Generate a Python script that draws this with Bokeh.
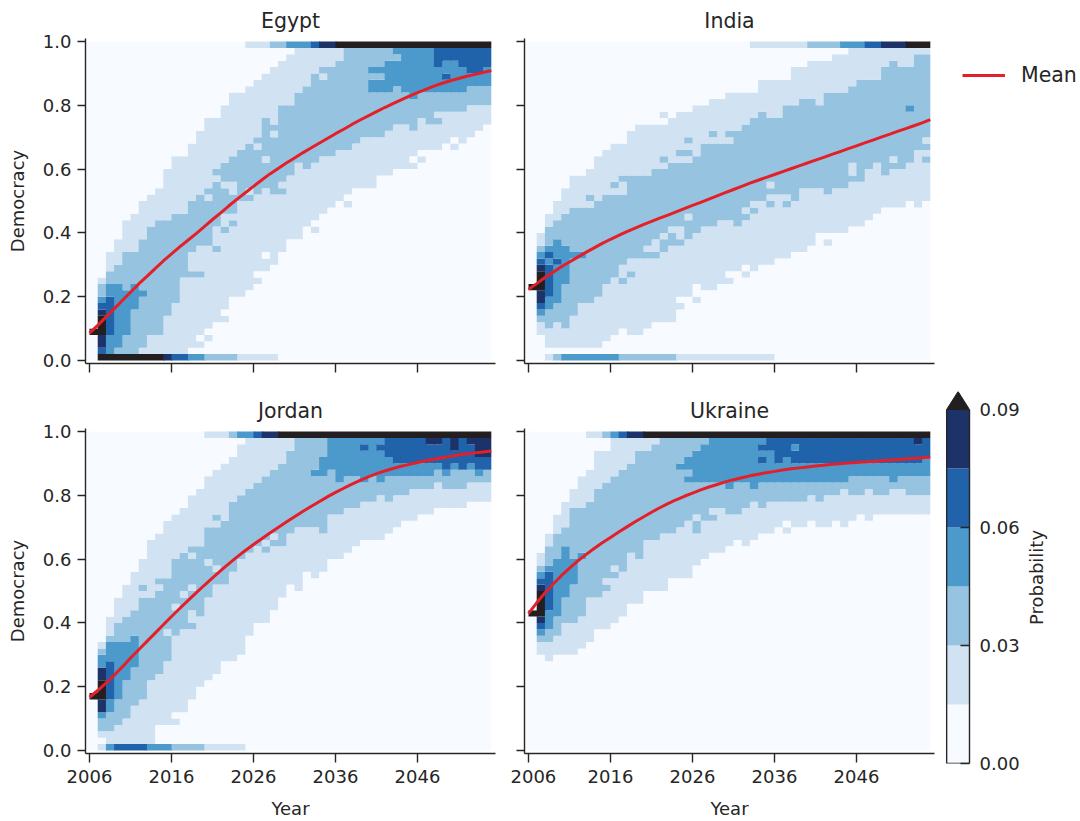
import math
from bokeh.core.properties import value
from bokeh.embed import file_html
from bokeh.resources import INLINE
from bokeh.plotting import figure
from bokeh.layouts import column, row
from bokeh.models import (ColumnDataSource, FixedTicker, Legend, LegendItem,
                          LinearColorMapper, Range1d)
from bokeh.transform import transform

years = list(range(2006, 2056))
tick_years = [2006, 2016, 2026, 2036, 2046]
demo_ticks = [0.0, 0.2, 0.4, 0.6, 0.8, 1.0]
prob_ticks = [0.0, 0.03, 0.06, 0.09]
palette = ["#f7fbff", "#d1e2f2", "#95c3e0", "#4c99cb", "#2063ab", "#1c3268"]
over_color = "#231f20"
mean_color = "#e3202a"
ink = "#262626"
BIN = 0.02           # democracy bin height
CLASS = 0.015        # probability class width

# Each string is one year column, bottom to top:
# "class/top_bin" = colour class k up to and including democracy bin top_bin (bins 1..48).
egypt_floor = "0/0 6/8 5/9 4/11 3/13 2/17 1/22 0/48"
egypt_ceil = "0/18 1/21 2/23 3/26 4/27 5/29 6/48"
egypt_cols = [
 "0/3 6/4", "4/1 5/3 6/6 5/7 4/8 3/9 2/11 1/12", "3/3 4/9 3/11 2/13 1/16", "2/1 3/11 2/14 1/18",
 "2/3 3/10 2/16 1/21", "2/7 3/11 2/16 1/22", "1/1 2/9 3/10 2/18 1/24", "1/3 2/20 1/25",
 "1/3 2/21 1/26", "1/6 2/21 1/29", "1/8 2/22 1/31", "1/12 2/22 1/31",
 "0/1 1/12 2/13 1/16 2/24 1/33", "0/1 1/2 0/3 1/12 2/13 1/17 2/25 1/35",
 "0/2 1/3 0/4 1/17 2/24 1/25 2/26 1/37", "0/5 1/16 2/17 1/20 2/27 1/28 2/29 1/37",
 "0/5 1/6 0/7 1/19 2/20 1/22 2/26 1/27 2/30 1/39", "0/9 1/20 2/21 1/22 2/25 1/27 2/31 1/41",
 "0/9 1/24 2/32 1/41", "0/10 1/24 2/25 1/26 2/33 1/42", "0/11 1/12 0/13 1/25 2/32 1/33 2/34 1/43",
 "0/13 1/15 0/16 1/26 2/30 1/31 2/37 1/44", "0/14 1/25 2/34 1/35 2/36 1/45",
 "0/16 1/25 2/26 1/27 2/39 1/46", "0/18 1/28 2/39 1/47", "0/18 1/30 2/41 1/48",
 "0/20 1/29 2/42 1/48", "0/19 1/20 0/21 1/30 2/44 1/48", "0/22 1/31 2/43 1/44 2/45 1/48",
 "0/23 1/31 2/45 1/48", "0/24 1/32 2/46 1/48", "0/23 1/24 0/25 1/32 2/48", "0/26 1/33 2/48",
 "0/26 1/34 2/48", "0/26 1/34 2/41 3/43 2/44 3/45 2/48", "0/28 1/34 2/41 3/43 2/44 3/45 2/48",
 "0/28 1/35 2/41 3/46 2/48", "0/29 1/36 2/42 3/46 2/47 3/48", "0/29 1/36 2/41 3/48",
 "0/29 1/30 0/31 1/35 2/40 3/48", "0/30 1/31 0/32 1/37 2/41 3/48", "0/32 1/36 2/41 3/48",
 "0/32 1/36 2/37 1/38 2/41 3/45 4/48", "0/33 1/38 2/41 3/43 4/44 3/46 4/48",
 "0/32 1/33 0/34 1/38 2/41 3/46 4/48", "0/33 1/38 2/41 3/45 4/48", "0/34 1/39 2/42 3/44 4/48",
 "0/35 1/39 2/42 3/44 4/48", "0/36 1/39 2/42 3/45 4/48",
]
egypt_mean = [.086,.110,.136,.162,.188,.214,.240,.264,.288,.312,.334,.356,.377,.398,.420,.442,.463,.485,.506,.526,
              .546,.566,.585,.602,.619,.635,.651,.666,.681,.696,.711,.725,.740,.754,.767,.780,.793,.805,.817,.829,
              .840,.850,.860,.869,.877,.884,.891,.897,.903,.909]

india_floor = "0/1 1/2 2/3 3/10 2/17 1/29 0/48"
india_ceil = "0/26 1/33 2/37 3/40 4/42 5/45 6/48"
india_cols = [
 "0/10 6/11", "0/3 1/5 2/6 3/7 4/8 5/10 6/13 5/14 4/15 3/16 2/17 1/19",
 "0/1 1/4 2/7 3/9 4/14 3/15 4/16 3/17 2/20 1/22", "0/1 1/5 2/8 3/14 4/15 3/18 2/21 1/24",
 "0/1 1/4 2/11 3/17 2/22 1/26", "0/1 1/6 2/15 3/16 2/23 1/28", "0/1 1/8 2/15 3/16 2/23 1/28",
 "0/1 1/8 2/23 1/24 2/25 1/29", "0/1 1/9 2/24 1/31", "0/2 1/11 2/25 1/32",
 "0/3 1/12 2/25 1/26 2/27 1/33", "0/4 1/11 2/12 1/14 2/25 1/27 2/28 1/33",
 "0/3 1/12 2/13 1/15 2/28 1/35", "0/3 1/15 2/28 1/36", "0/4 1/15 2/16 1/17 2/28 1/36",
 "0/5 1/15 2/16 1/18 2/29 1/36", "0/5 1/16 2/18 1/19 2/29 1/30 2/31 1/36 0/37 1/38",
 "0/5 1/17 2/19 1/20 2/30 1/37", "0/7 1/8 0/9 1/17 2/18 1/20 2/30 1/31 2/32 1/38",
 "0/9 1/18 2/21 1/22 2/30 1/31 2/32 1/33 2/34 1/38", "0/8 1/9 0/11 1/19 2/31 1/39",
 "0/10 1/20 2/33 1/39", "0/10 1/20 2/33 1/34 2/35 1/40", "0/11 1/21 2/33 1/40",
 "0/11 1/12 0/13 1/21 2/33 1/34 2/35 1/41", "0/13 1/20 2/35 1/41",
 "0/12 1/13 0/14 1/21 2/22 1/23 2/36 1/41", "0/13 1/22 2/23 1/24 2/37 1/41", "0/14 1/24 2/38 1/43",
 "0/14 1/23 2/24 1/25 2/26 1/27 2/37 1/43", "0/15 1/25 2/37 1/43", "0/15 1/23 2/24 1/25 2/39 1/43",
 "0/16 1/24 2/39 1/45", "0/16 1/26 2/40 1/45", "0/17 1/26 2/40 1/46", "0/19 1/26 2/39 1/46",
 "0/17 1/18 0/19 1/25 2/41 1/46", "0/19 1/26 2/41 1/47", "0/19 1/26 2/41 1/47",
 "0/20 1/27 2/28 1/30 2/42 1/48", "0/20 1/27 2/43 1/48", "0/21 1/29 2/43 1/48", "0/22 1/30 2/43 1/48",
 "0/23 1/28 2/45 1/48", "0/23 1/29 2/30 1/31 2/46 1/48", "0/23 1/29 2/45 1/48",
 "0/24 1/30 2/38 3/39 2/45 1/48", "0/23 1/32 2/47 1/48", "0/24 1/30 2/31 1/32 2/33 1/34 2/47 1/48",
]
india_mean = [.223,.241,.260,.277,.294,.309,.324,.339,.353,.367,.380,.392,.404,.415,.426,.436,.446,.456,.466,.476,
              .486,.496,.506,.516,.526,.536,.546,.556,.565,.574,.583,.592,.601,.610,.619,.628,.637,.646,.655,.664,
              .673,.682,.691,.700,.709,.718,.727,.736,.745,.755]

jordan_floor = "0/0 1/1 3/2 4/6 3/9 2/13 1/18 0/48"
jordan_ceil = "0/13 1/16 2/17 3/19 4/20 5/22 6/48"
jordan_cols = [
 "0/7 6/8", "0/1 1/2 2/4 3/5 5/7 6/10 5/12 3/14 2/15 1/16", "1/2 2/5 3/7 4/13 3/16 2/17 1/20",
 "1/3 2/7 3/16 2/19 1/23", "1/4 2/10 3/16 2/20 1/25", "1/6 2/12 3/17 2/21 1/27",
 "1/7 2/23 1/24 2/25 1/29", "1/10 2/23 1/32", "0/3 1/11 2/24 1/25 2/26 1/33",
 "0/3 1/13 2/17 1/18 2/26 1/35", "0/3 1/4 0/5 1/17 2/21 1/22 2/29 1/36", "0/5 1/18 2/23 1/24 2/30 1/37",
 "0/7 1/18 2/19 1/21 2/24 1/25 2/29 1/30 2/31 1/39", "0/9 1/20 2/31 1/40", "0/10 1/23 2/28 1/29 2/34 1/42",
 "0/11 1/25 2/27 1/28 2/34 1/35 2/36 1/43", "0/13 1/25 2/35 1/44", "0/13 1/27 2/38 1/45",
 "0/14 1/29 2/39 1/47", "0/17 1/30 2/40 1/48", "0/19 1/31 2/41 1/48", "0/19 1/30 2/31 1/32 2/42 1/48",
 "0/21 1/31 2/32 1/33 2/43 1/48", "0/23 1/31 2/44 1/48", "0/25 1/33 2/46 1/48", "0/24 1/34 2/48",
 "0/27 1/34 2/48", "0/26 1/34 2/42 3/43 2/48", "0/27 1/33 2/42 3/45 2/48", "0/29 1/36 2/43 3/48",
 "0/29 1/36 2/41 3/48", "0/30 1/37 2/42 3/48", "0/31 1/37 2/42 3/48", "0/32 1/38 2/41 3/46 4/47 3/48",
 "0/32 1/38 2/42 3/48", "0/32 1/39 2/41 3/46 4/47 3/48", "0/33 1/38 2/42 3/45 4/48",
 "0/34 1/39 2/42 3/44 4/48", "0/35 1/39 2/42 3/44 4/48", "0/35 1/40 2/42 3/44 4/48",
 "0/36 1/40 2/42 3/44 4/48", "0/36 1/40 2/42 3/44 4/47 5/48", "0/37 1/41 2/43 3/44 4/47 5/48",
 "0/37 1/40 2/42 3/43 4/48", "0/37 1/40 2/43 3/44 4/46 5/48", "0/37 1/40 2/43 4/48",
 "0/38 1/41 2/43 3/44 4/47 5/48", "0/38 1/41 2/42 3/43 4/45 5/48", "0/38 1/41 2/43 4/45 5/48",
]
jordan_mean = [.167,.188,.211,.236,.262,.290,.316,.342,.368,.394,.420,.445,.470,.494,.518,.541,.564,.586,.607,.627,
               .646,.664,.682,.699,.716,.733,.749,.765,.780,.795,.809,.822,.835,.847,.858,.868,.876,.884,.891,.897,
               .903,.908,.913,.918,.922,.926,.930,.933,.936,.939]

ukraine_floor = "0/48"
ukraine_ceil = "0/6 1/8 2/9 3/10 4/11 5/13 6/48"
ukraine_cols = [
 "0/20 6/21", "0/14 1/16 2/17 3/18 4/19 5/20 6/24 5/25 4/26 3/27 2/28 1/30",
 "0/13 1/16 2/18 3/21 4/27 3/28 2/31 1/33", "0/14 1/17 2/20 3/29 2/33 1/36", "0/14 1/19 2/23 3/31 2/34 1/38",
 "0/14 1/19 2/25 3/29 2/37 1/40", "0/15 1/20 2/29 3/30 2/37 1/42", "0/16 1/23 2/38 1/43",
 "0/18 1/23 2/40 1/46", "0/18 1/24 2/25 1/26 2/41 1/46", "0/19 1/26 2/27 1/28 2/42 1/48",
 "0/20 1/27 2/43 1/48", "0/22 1/30 2/44 1/48", "0/22 1/29 2/46 1/48", "0/24 1/32 2/46 1/48",
 "0/24 1/32 2/47 1/48", "0/24 1/33 2/48", "0/26 1/33 2/48", "0/26 1/34 2/43 3/44 2/48",
 "0/26 1/35 2/41 3/42 2/43 3/45 2/48", "0/28 1/33 2/35 1/36 2/41 3/46 2/48", "0/29 1/35 2/41 3/47 2/48",
 "0/30 1/35 2/36 1/37 2/41 3/48", "0/30 1/37 2/41 3/48", "0/31 1/36 2/40 3/48", "0/32 1/36 2/41 3/48",
 "0/31 1/37 2/41 3/48", "0/32 1/38 2/40 3/48", "0/33 1/37 2/41 3/44 4/45 3/46 4/47 3/48",
 "0/33 1/38 2/41 3/46 4/48", "0/34 1/38 2/41 3/44 4/48", "0/33 1/34 0/35 1/38 2/41 3/45 4/48",
 "0/34 1/38 2/41 3/44 4/46 3/47 4/48", "0/34 1/38 2/41 3/44 4/48", "0/35 1/39 2/41 3/44 4/48",
 "0/34 1/38 2/41 3/44 4/48", "0/34 1/39 2/41 3/44 4/48", "0/35 1/39 2/41 3/44 4/48",
 "0/34 1/40 2/41 3/44 4/48", "0/35 1/39 2/42 3/44 4/48", "0/36 1/39 2/42 3/44 4/48",
 "0/35 1/40 2/42 3/44 4/48", "0/36 1/39 2/42 3/44 4/48", "0/36 1/39 2/42 3/44 4/48",
 "0/36 1/40 2/41 3/44 4/48", "0/36 1/40 2/42 3/44 4/48", "0/36 1/39 2/42 3/44 4/48",
 "0/36 1/39 2/42 3/44 4/47 5/48", "0/36 1/39 2/42 3/45 4/48",
]
ukraine_mean = [.430,.463,.494,.522,.548,.572,.594,.614,.633,.651,.668,.685,.701,.717,.732,.747,.761,.774,.786,.797,
                .807,.817,.826,.834,.842,.849,.855,.861,.866,.871,.875,.879,.883,.886,.889,.892,.894,.897,.899,.901,
                .903,.905,.906,.908,.910,.912,.914,.916,.918,.920]

mapper = LinearColorMapper(palette=palette, low=0.0, high=0.09, high_color=over_color)


def expand(col):
    out, start = [], 1
    for tok in col.split():
        k, top = tok.split("/")
        out += [int(k)] * (int(top) - start + 1)
        start = int(top) + 1
    return out + [0] * (48 - len(out))


def edge_runs(runs):
    """(class, first_column, last_column) for an edge row, bin 0 or bin 49"""
    out, start = [], 0
    for tok in runs.split():
        k, top = tok.split("/")
        out.append((int(k), start, min(int(top), 48)))
        start = int(top) + 1
    return out


def cells(cols, floor, ceil):
    """Vertical runs of equal class, painted left to right; each overlaps the next column
    by about a pixel and is overdrawn by it, which hides seams. The two edge rows follow,
    as horizontal runs."""
    d = dict(l=[], r=[], b=[], t=[], p=[])
    n = len(cols)
    for c, col in enumerate(cols):
        stack = expand(col)
        r = 0
        while r < len(stack):
            e = r
            while e + 1 < len(stack) and stack[e + 1] == stack[r]:
                e += 1
            d["l"].append(years[c])
            d["r"].append(years[c] + (1.12 if c < n - 1 else 1))
            d["b"].append((r + 1) * BIN)
            d["t"].append((e + 2) * BIN)
            d["p"].append((stack[r] + 0.5) * CLASS)
            r = e + 1
    for row_bin, runs in ((0, floor), (49, ceil)):
        for k, first, last in edge_runs(runs):
            d["l"].append(years[first])
            d["r"].append(years[last] + (1.12 if last < n - 1 else 1))
            d["b"].append(row_bin * BIN)
            d["t"].append((row_bin + 1) * BIN)
            d["p"].append((k + 0.5) * CLASS)
    return ColumnDataSource(d)


def panel(name, cols, floor, ceil, mean, left, bottom, width, height, b_left, b_right, b_top, b_bottom):
    p = figure(width=width, height=height, output_backend="svg", toolbar_location=None,
               x_range=Range1d(2005.51, 2055.51), y_range=Range1d(-0.0094, 1.0094),
               min_border_left=b_left, min_border_right=b_right, min_border_top=b_top, min_border_bottom=b_bottom,
               title=name, tools="")
    p.outline_line_color = None
    p.grid.visible = False
    p.title.align = "center"
    p.title.text_font = "DejaVu Sans"
    p.title.text_font_size = "20.5px"
    p.title.text_font_style = "normal"
    p.title.text_color = ink
    p.title.standoff = 11
    p.background_fill_color = "#ffffff"
    p.quad(left=2005.65, right=2006.1, bottom=0, top=1, fill_color=palette[0], line_color=None)
    src = cells(cols, floor, ceil)
    tr = transform("p", mapper)
    p.quad(left="l", right="r", bottom="b", top="t", source=src, fill_color=tr, line_color=None)
    p.line(years, mean, line_color=mean_color, line_width=3)

    for ax, ticks, tick_len in ((p.xaxis[0], tick_years, 9), (p.yaxis[0], demo_ticks, 8)):
        ax.ticker = FixedTicker(ticks=ticks)
        ax.axis_line_color = ink
        ax.axis_line_width = 1.4
        ax.major_tick_line_color = ink
        ax.major_tick_line_width = 1.4
        ax.major_tick_in = 0
        ax.major_tick_out = tick_len
        ax.minor_tick_line_color = None
        ax.major_label_text_font = "DejaVu Sans"
        ax.major_label_text_font_size = "18px"
        ax.major_label_text_color = ink
        ax.axis_label_text_font = "DejaVu Sans"
        ax.axis_label_text_font_size = "18px"
        ax.axis_label_text_font_style = "normal"
        ax.axis_label_text_color = ink
    p.xaxis[0].major_label_overrides = {t: str(t) for t in tick_years} if bottom else {t: "" for t in tick_years}
    p.yaxis[0].major_label_overrides = {t: f"{t:.1f}" for t in demo_ticks} if left else {t: "" for t in demo_ticks}
    p.xaxis[0].major_label_standoff = 7
    p.yaxis[0].major_label_standoff = 6
    if bottom:
        p.xaxis[0].axis_label = "Year"
        p.xaxis[0].axis_label_standoff = 12
    if left:
        p.yaxis[0].axis_label = "Democracy"
        p.yaxis[0].axis_label_standoff = 12
    return p


p1 = panel("Egypt", egypt_cols, egypt_floor, egypt_ceil, egypt_mean, True, False, 510, 385, 85, 15, 38, 22)
p2 = panel("India", india_cols, india_floor, india_ceil, india_mean, False, False, 430, 385, 14, 6, 38, 22)
p3 = panel("Jordan", jordan_cols, jordan_floor, jordan_ceil, jordan_mean, True, True, 510, 436, 85, 15, 43, 68)
p4 = panel("Ukraine", ukraine_cols, ukraine_floor, ukraine_ceil, ukraine_mean, False, True, 430, 436, 14, 6, 43, 68)

# legend lives in a small figure of its own, to the right of India; its key line
# carries the India mean, whose values lie outside this figure's view
lg = figure(width=140, height=385, output_backend="svg", toolbar_location=None, tools="",
            x_range=Range1d(0, 1), y_range=Range1d(0, 1),
            min_border_left=0, min_border_right=0, min_border_top=0, min_border_bottom=0)
lg.outline_line_color = None
lg.grid.visible = False
lg.axis.visible = False
key = lg.line(years, india_mean, line_color=mean_color, line_width=3)
legend = Legend(items=[LegendItem(label="Mean", renderers=[key])], location=(22, 298),
                border_line_color=None, background_fill_color=None, padding=0, margin=0, spacing=0,
                glyph_width=43, glyph_height=24, label_standoff=16,
                label_text_font="DejaVu Sans", label_text_font_size="20.5px", label_text_color=ink)
lg.add_layout(legend, "center")

# colour bar: one quad per colour class, with the over-range triangle on top
class_low = [0.0, 0.015, 0.03, 0.045, 0.06, 0.075]
class_high = [0.015, 0.03, 0.045, 0.06, 0.075, 0.09]
class_mid = [0.0075, 0.0225, 0.0375, 0.0525, 0.0675, 0.0825]
over_tip = 0.09458

cb = figure(width=85, height=436, output_backend="svg", toolbar_location=None, tools="",
            x_range=Range1d(-0.05, 1.0), y_range=Range1d(0, over_tip),
            min_border_left=5, min_border_right=56, min_border_top=6, min_border_bottom=58,
            y_axis_location="right")
cb.outline_line_color = None
cb.grid.visible = False
cb.xaxis.visible = False
cb_src = ColumnDataSource(dict(b=class_low, t=class_high, p=class_mid))
cb.quad(left=0, right=1, bottom="b", top="t", source=cb_src, fill_color=transform("p", mapper), line_color=None)
cb.patch([0, 0.5, 1], [0.09, over_tip, 0.09], fill_color=over_color, line_color=over_color, line_width=1)
cb.line([0, 0, 1], [0.09, 0, 0], line_color=ink, line_width=1.4)
ax = cb.yaxis[0]
ax.ticker = FixedTicker(ticks=prob_ticks)
ax.major_label_overrides = {t: f"{t:.2f}" for t in prob_ticks}
ax.bounds = (0, 0.09)
ax.axis_line_color = ink
ax.axis_line_width = 1.4
ax.major_tick_line_color = ink
ax.major_tick_line_width = 1.4
ax.major_tick_in = 9
ax.major_tick_out = 0
ax.minor_tick_line_color = None
ax.major_label_text_font = "DejaVu Sans"
ax.major_label_text_font_size = "18px"
ax.major_label_text_color = ink
ax.major_label_standoff = 10

# the colour bar's title, reading upward, in a narrow figure beside it
cb_title = figure(width=55, height=436, output_backend="svg", toolbar_location=None, tools="",
                  x_range=Range1d(0, 55), y_range=Range1d(0, 1),
                  min_border_left=0, min_border_right=0, min_border_top=6, min_border_bottom=58)
cb_title.outline_line_color = None
cb_title.grid.visible = False
cb_title.axis.visible = False
cb_title.text(x=[11], y=[0.5], text=["Probability"], angle=math.pi / 2, text_align="center",
              text_baseline="middle", text_font=value("DejaVu Sans"), text_font_size="18px", text_color=ink)

left_block = column(row(p1, p2, spacing=0), row(p3, p4, spacing=0), spacing=0)
right_block = column(row(lg, spacing=0), row(cb, cb_title, spacing=0), spacing=0)
page = row(left_block, right_block, spacing=0)
open("out.html", "w").write(file_html(page, INLINE))
